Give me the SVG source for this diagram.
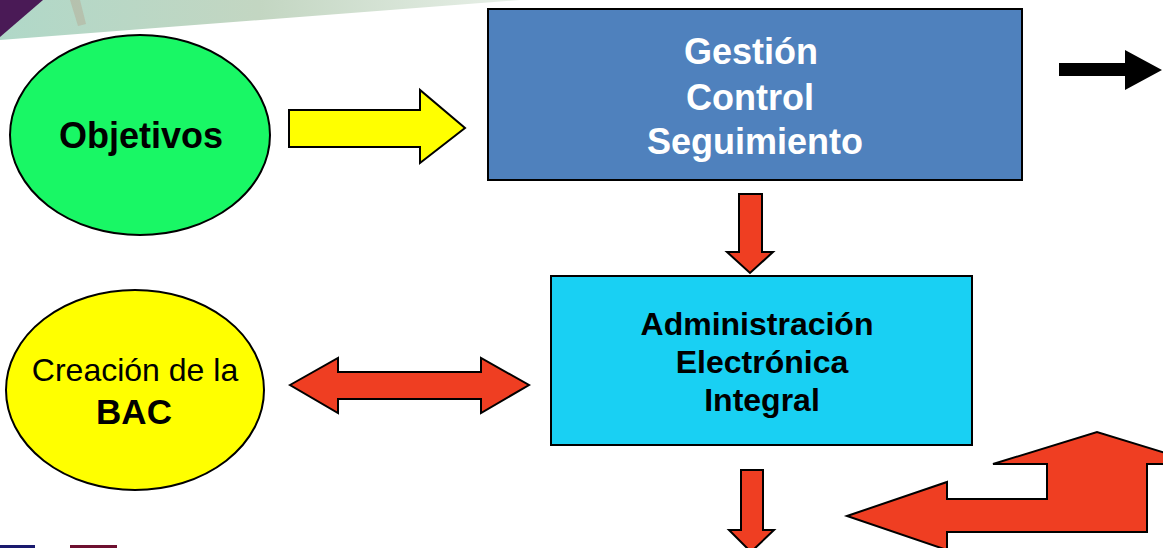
<svg xmlns="http://www.w3.org/2000/svg" width="1163" height="548" viewBox="0 0 1163 548">
<style>
.ln{stroke:#000;stroke-width:2;stroke-linejoin:miter}
.red{fill:#ef3e22}
.t{font-family:"Liberation Sans",Arial,sans-serif;text-anchor:middle}
.b{font-weight:bold}
</style>
<defs>
<linearGradient id="bg" x1="0" y1="0" x2="1" y2="0">
<stop offset="0" stop-color="#b0d8c8"/>
<stop offset="0.5" stop-color="#c3d6c2"/>
<stop offset="1" stop-color="#e8f0e8"/>
</linearGradient>
</defs>
<rect width="1163" height="548" fill="#fff"/>
<polygon points="0,0 520,0 0,40" fill="url(#bg)"/>
<polygon points="70,0 80,0 86,24 78,26" fill="#b5ab95" opacity="0.5"/>
<polygon points="0,0 43,0 0,37" fill="#4a1a56"/>
<rect x="0" y="545" width="35" height="3" fill="#1a1a6e"/>
<rect x="70" y="545" width="47" height="3" fill="#6e1030"/>

<g id="objetivos">
<ellipse cx="140" cy="135" rx="130" ry="100" fill="#19f765" class="ln"/>
<text x="141" y="148" class="t b" font-size="36">Objetivos</text>
</g>
<g id="gestion">
<rect x="488" y="9" width="534" height="171" fill="#4f81bd" class="ln"/>
<text class="t b" font-size="36" fill="#fff"><tspan x="751" y="64">Gestión</tspan><tspan x="750" y="110">Control</tspan><tspan x="755" y="154">Seguimiento</tspan></text>
</g>
<g id="administracion">
<rect x="551" y="276" width="421" height="169" fill="#19d0f3" class="ln"/>
<text class="t b" font-size="32" fill="#000"><tspan x="757" y="335">Administración</tspan><tspan x="762" y="373">Electrónica</tspan><tspan x="762" y="411">Integral</tspan></text>
</g>
<g id="bac">
<ellipse cx="135" cy="390" rx="129" ry="100" fill="#ffff00" class="ln"/>
<text class="t" font-size="32"><tspan x="135" y="381">Creación de la</tspan><tspan x="134" y="424" font-weight="bold" font-size="35">BAC</tspan></text>
</g>

<g id="connectors">
<polygon points="289,110 420,110 420,90 465,128 420,163 420,147 289,147" fill="#ffff00" class="ln"/>
<polygon points="1059,63 1125,63 1125,50 1162,70 1125,90 1125,76 1059,76" fill="#000"/>
<polygon points="739,194 762,194 762,252 773,252 750,273 727,252 739,252" class="red ln"/>
<polygon points="290,385 338,358 338,372 481,372 481,358 529,385 481,413 481,399 338,399 338,413" class="red ln"/>
<polygon points="741,470 763,470 763,530 774,530 751,552 729,530 741,530" class="red ln"/>
<polygon points="847,516 947,482 947,499 1047,499 1047,464 993,464 1097,432 1201,464 1147,464 1147,532 947,532 947,550" class="red ln"/>
</g>
</svg>
